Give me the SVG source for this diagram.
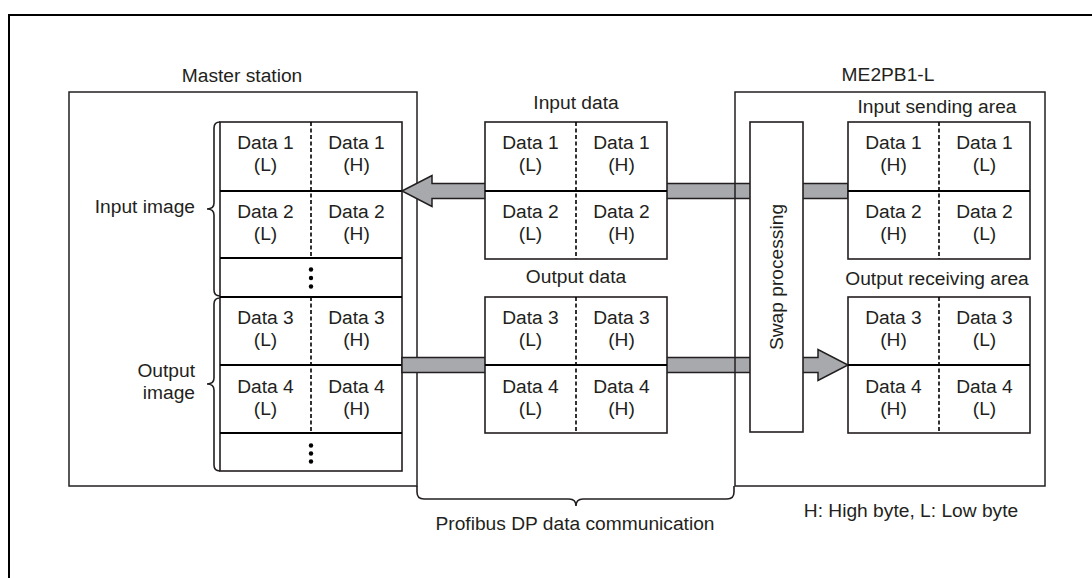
<svg xmlns="http://www.w3.org/2000/svg" width="1092" height="578" viewBox="0 0 1092 578">
<style>
text{font-family:"Liberation Sans",Arial,sans-serif;font-size:19.2px;fill:#231f20}
.c{text-anchor:middle}
.r{text-anchor:end}
.box{fill:none;stroke:#231f20;stroke-width:1.5}
.tbl{fill:#fff;stroke:#231f20;stroke-width:1.6}
.row{stroke:#000;stroke-width:2}
.dash{stroke:#000;stroke-width:1.6;stroke-dasharray:4 2.5}
.brace{fill:none;stroke:#231f20;stroke-width:1.6}
.arrow{fill:#a7a9ac;stroke:#231f20;stroke-width:1.5;stroke-linejoin:miter}
.dot{fill:#000}
</style>
<rect x="0" y="0" width="1092" height="578" fill="#fff"/>
<rect id="frame" x="9" y="15" width="1100" height="600" fill="none" stroke="#000" stroke-width="2"/>

<g id="master-station">
  <rect class="box" x="69" y="92" width="348" height="394"/>
  <text class="c" x="242" y="82">Master station</text>
  <rect class="tbl" x="220" y="122" width="182" height="349"/>
  <line class="row" x1="220" y1="191" x2="402" y2="191"/>
  <line class="row" x1="220" y1="258" x2="402" y2="258"/>
  <line class="row" x1="220" y1="297" x2="402" y2="297"/>
  <line class="row" x1="220" y1="365" x2="402" y2="365"/>
  <line class="row" x1="220" y1="433" x2="402" y2="433"/>
  <line class="dash" x1="311" y1="122" x2="311" y2="258"/>
  <line class="dash" x1="311" y1="297" x2="311" y2="433"/>
  <text class="c" y="149"><tspan x="265.5">Data 1</tspan><tspan x="265.5" dy="22">(L)</tspan></text>
  <text class="c" y="149"><tspan x="356.5">Data 1</tspan><tspan x="356.5" dy="22">(H)</tspan></text>
  <text class="c" y="218"><tspan x="265.5">Data 2</tspan><tspan x="265.5" dy="22">(L)</tspan></text>
  <text class="c" y="218"><tspan x="356.5">Data 2</tspan><tspan x="356.5" dy="22">(H)</tspan></text>
  <circle class="dot" cx="311" cy="269.5" r="2.2"/><circle class="dot" cx="311" cy="278" r="2.2"/><circle class="dot" cx="311" cy="286.5" r="2.2"/>
  <text class="c" y="324"><tspan x="265.5">Data 3</tspan><tspan x="265.5" dy="22">(L)</tspan></text>
  <text class="c" y="324"><tspan x="356.5">Data 3</tspan><tspan x="356.5" dy="22">(H)</tspan></text>
  <text class="c" y="393"><tspan x="265.5">Data 4</tspan><tspan x="265.5" dy="22">(L)</tspan></text>
  <text class="c" y="393"><tspan x="356.5">Data 4</tspan><tspan x="356.5" dy="22">(H)</tspan></text>
  <circle class="dot" cx="311" cy="445.5" r="2.2"/><circle class="dot" cx="311" cy="453.5" r="2.2"/><circle class="dot" cx="311" cy="461.5" r="2.2"/>
  <path class="brace" d="M220,122 Q214,122 214,128 L214,203 Q214,209 207,209 Q214,209 214,215 L214,290 Q214,296 220,296"/>
  <path class="brace" d="M220,298 Q214,298 214,304 L214,378 Q214,384 207,384 Q214,384 214,390 L214,465 Q214,471 220,471"/>
  <text class="r" x="195" y="213">Input image</text>
  <text class="r" y="377"><tspan x="195">Output</tspan><tspan x="195" dy="22">image</tspan></text>
</g>

<g id="connectors">
  <polygon class="arrow" points="402,191 432,175.5 432,183.5 848,183.5 848,198.5 432,198.5 432,206.5"/>
  <polygon class="arrow" points="402,357.5 818,357.5 818,349.5 848,365 818,380.5 818,372.5 402,372.5"/>
</g>

<g id="me2pb1">
  <rect class="box" x="735" y="92" width="310" height="394"/>
  <text class="c" x="888" y="81">ME2PB1-L</text>
</g>

<g id="swap-processing">
  <rect class="tbl" x="750" y="122" width="53" height="310"/>
  <text class="c" transform="translate(783,277) rotate(-90)">Swap processing</text>
</g>

<g id="input-data">
  <text class="c" x="576" y="109">Input data</text>
  <rect class="tbl" x="485" y="122" width="182" height="137"/>
  <line class="row" x1="485" y1="191" x2="667" y2="191"/>
  <line class="dash" x1="576" y1="122" x2="576" y2="259"/>
  <text class="c" y="149"><tspan x="530.5">Data 1</tspan><tspan x="530.5" dy="22">(L)</tspan></text>
  <text class="c" y="149"><tspan x="621.5">Data 1</tspan><tspan x="621.5" dy="22">(H)</tspan></text>
  <text class="c" y="218"><tspan x="530.5">Data 2</tspan><tspan x="530.5" dy="22">(L)</tspan></text>
  <text class="c" y="218"><tspan x="621.5">Data 2</tspan><tspan x="621.5" dy="22">(H)</tspan></text>
</g>

<g id="output-data">
  <text class="c" x="576" y="283">Output data</text>
  <rect class="tbl" x="485" y="297" width="182" height="136"/>
  <line class="row" x1="485" y1="365" x2="667" y2="365"/>
  <line class="dash" x1="576" y1="297" x2="576" y2="433"/>
  <text class="c" y="324"><tspan x="530.5">Data 3</tspan><tspan x="530.5" dy="22">(L)</tspan></text>
  <text class="c" y="324"><tspan x="621.5">Data 3</tspan><tspan x="621.5" dy="22">(H)</tspan></text>
  <text class="c" y="393"><tspan x="530.5">Data 4</tspan><tspan x="530.5" dy="22">(L)</tspan></text>
  <text class="c" y="393"><tspan x="621.5">Data 4</tspan><tspan x="621.5" dy="22">(H)</tspan></text>
</g>

<g id="input-sending-area">
  <text class="c" x="937" y="113">Input sending area</text>
  <rect class="tbl" x="848" y="122" width="182" height="137"/>
  <line class="row" x1="848" y1="191" x2="1030" y2="191"/>
  <line class="dash" x1="939" y1="122" x2="939" y2="259"/>
  <text class="c" y="149"><tspan x="893.5">Data 1</tspan><tspan x="893.5" dy="22">(H)</tspan></text>
  <text class="c" y="149"><tspan x="984.5">Data 1</tspan><tspan x="984.5" dy="22">(L)</tspan></text>
  <text class="c" y="218"><tspan x="893.5">Data 2</tspan><tspan x="893.5" dy="22">(H)</tspan></text>
  <text class="c" y="218"><tspan x="984.5">Data 2</tspan><tspan x="984.5" dy="22">(L)</tspan></text>
</g>

<g id="output-receiving-area">
  <text class="c" x="937" y="285">Output receiving area</text>
  <rect class="tbl" x="848" y="297" width="182" height="136"/>
  <line class="row" x1="848" y1="365" x2="1030" y2="365"/>
  <line class="dash" x1="939" y1="297" x2="939" y2="433"/>
  <text class="c" y="324"><tspan x="893.5">Data 3</tspan><tspan x="893.5" dy="22">(H)</tspan></text>
  <text class="c" y="324"><tspan x="984.5">Data 3</tspan><tspan x="984.5" dy="22">(L)</tspan></text>
  <text class="c" y="393"><tspan x="893.5">Data 4</tspan><tspan x="893.5" dy="22">(H)</tspan></text>
  <text class="c" y="393"><tspan x="984.5">Data 4</tspan><tspan x="984.5" dy="22">(L)</tspan></text>
</g>

<g id="profibus">
  <path class="brace" d="M417,486 L417,492 Q417,499 424,499 L569,499 Q576,499 576,506 Q576,499 583,499 L727,499 Q734,499 734,492 L734,486"/>
  <text class="c" x="575" y="530">Profibus DP data communication</text>
</g>

<g id="legend">
  <text class="c" x="911" y="517">H: High byte, L: Low byte</text>
</g>
</svg>
